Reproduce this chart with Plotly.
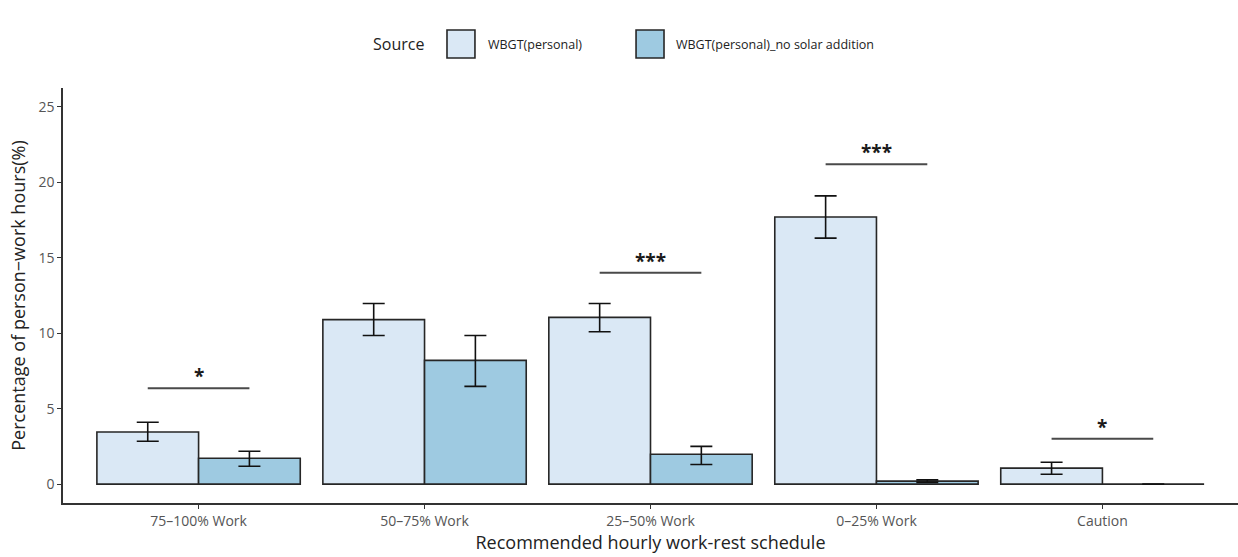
import plotly.graph_objects as go

# Recommended hourly work-rest schedule categories
categories = ["75\u2013100% Work", "50\u201375% Work", "25\u201350% Work", "0\u201325% Work", "Caution"]

# Mean percentage of person-work hours per source
personal = [3.45, 10.9, 11.05, 17.7, 1.06]
no_solar = [1.72, 8.2, 1.98, 0.2, 0.0]

# Error bar bounds (upper / lower)
personal_hi = [4.1, 11.97, 11.97, 19.1, 1.45]
personal_lo = [2.84, 9.85, 10.1, 16.3, 0.66]
no_solar_hi = [2.18, 9.85, 2.5, 0.28, 0.0]
no_solar_lo = [1.19, 6.48, 1.3, 0.12, 0.0]

# Significance markers: category index, bracket height, label
sig_index = [0, 2, 3, 4]
sig_height = [6.35, 14.0, 21.2, 3.0]
sig_label = ["*", "***", "***", "*"]

series_names = ["WBGT(personal)", "WBGT(personal)_no solar addition"]
fill_colors = ["#dae8f5", "#9ecae1"]
edge = "#262626"
font_family = "Open Sans, Noto Sans, sans-serif"

x_idx = list(range(len(categories)))

fig = go.Figure()
for name, vals, hi, lo, col in [
    (series_names[0], personal, personal_hi, personal_lo, fill_colors[0]),
    (series_names[1], no_solar, no_solar_hi, no_solar_lo, fill_colors[1]),
]:
    fig.add_trace(go.Bar(
        x=x_idx, y=vals, name=name,
        marker=dict(color=col, line=dict(color=edge, width=1.6)),
        error_y=dict(type="data", symmetric=False,
                     array=[h - v for h, v in zip(hi, vals)],
                     arrayminus=[v - l for v, l in zip(vals, lo)],
                     color="#111111", thickness=1.6, width=11),
        showlegend=False,
    ))

# significance brackets spanning bar centres of each dodged pair
half = 0.225
for i, h, lab in zip(sig_index, sig_height, sig_label):
    fig.add_shape(type="line", xref="x", yref="y",
                  x0=i - half, x1=i + half, y0=h, y1=h,
                  line=dict(color="#4a4a4a", width=2))
    fig.add_annotation(x=i, y=h, xref="x", yref="y", text="<b>" + lab + "</b>",
                       showarrow=False, yanchor="bottom", yshift=-3,
                       font=dict(size=19, color="#1a1a1a", family=font_family))

# legend drawn at the top
fig.add_annotation(xref="paper", yref="paper", x=0.3093, y=1.1060,
                   text="Source", showarrow=False, xanchor="right", yanchor="middle",
                   font=dict(size=16, color="#222222", family=font_family))
box_x = [0.3268, 0.4877]
text_x = [0.3600, 0.5200]
for bx, tx, name, col in zip(box_x, text_x, series_names, fill_colors):
    fig.add_shape(type="rect", xref="paper", yref="paper",
                  x0=bx, x1=bx + 0.0238, y0=1.0723, y1=1.1398,
                  fillcolor=col, line=dict(color=edge, width=1.6))
    fig.add_annotation(xref="paper", yref="paper", x=tx, y=1.1060,
                       text=name, showarrow=False, xanchor="left", yanchor="middle",
                       font=dict(size=12.5, color="#222222", family=font_family))

fig.update_layout(
    width=1238, height=557,
    margin=dict(l=63, r=0, t=88, b=54),
    paper_bgcolor="white", plot_bgcolor="white",
    barmode="group", bargap=0.1, bargroupgap=0,
    font=dict(family=font_family),
)
fig.update_xaxes(
    range=[-0.6, 4.6], tickmode="array", tickvals=x_idx, ticktext=categories,
    showgrid=False, zeroline=False, showline=True, linecolor="#333333", linewidth=1.6,
    ticks="outside", ticklen=4, tickcolor="#333333", tickwidth=1.2,
    tickfont=dict(size=14, color="#555555"),
    title=dict(text="Recommended hourly work-rest schedule", standoff=2,
               font=dict(size=18, color="#222222")),
)
fig.update_yaxes(
    range=[-1.25, 26.25], tickmode="array", tickvals=[0, 5, 10, 15, 20, 25],
    showgrid=False, zeroline=False, showline=True, linecolor="#333333", linewidth=1.6,
    ticks="outside", ticklen=4, tickcolor="#333333", tickwidth=1.2,
    tickfont=dict(size=14, color="#555555"),
    title=dict(text="Percentage of person\u2212work hours(%)", standoff=8,
               font=dict(size=18, color="#222222")),
)

fig.write_html("out.html")
